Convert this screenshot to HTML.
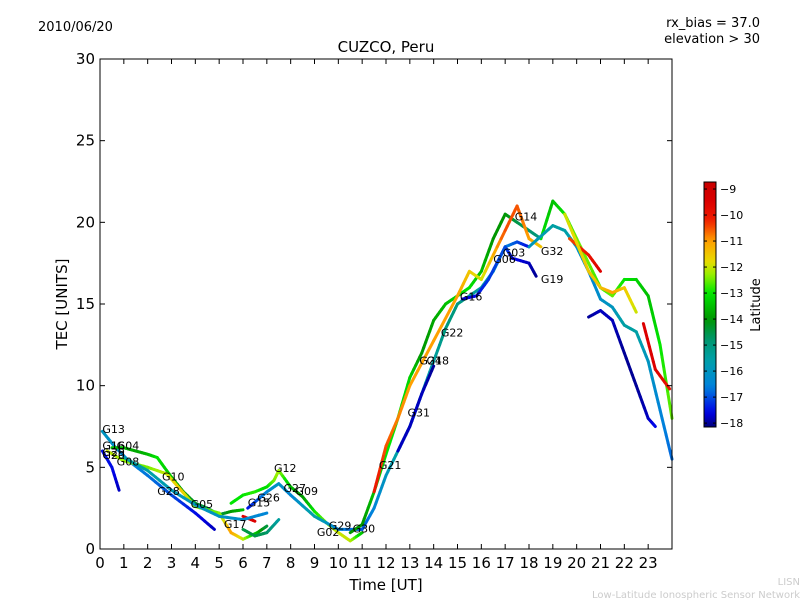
<!DOCTYPE html>
<html><head><meta charset="utf-8">
<style>
body{margin:0;background:#fff;}
svg{display:block;font-family:"DejaVu Sans","Liberation Sans",sans-serif;}
</style></head>
<body>
<svg id="chart" width="800" height="600">
<text x="38" y="31" font-size="13">2010/06/20</text>
<text x="760" y="27" font-size="13" text-anchor="end">rx_bias = 37.0</text>
<text x="760" y="43" font-size="13" text-anchor="end">elevation &gt; 30</text>
<text x="386" y="52" font-size="15" text-anchor="middle">CUZCO, Peru</text>
<text x="386" y="590" font-size="15" text-anchor="middle">Time [UT]</text>
<text x="67" y="304" font-size="15" text-anchor="middle" transform="rotate(-90 67 304)">TEC [UNITS]</text>
<text x="760" y="305" font-size="13" text-anchor="middle" transform="rotate(-90 760 305)">Latitude</text>
<text x="800" y="585" font-size="10" fill="#ccc" text-anchor="end">LISN</text>
<text x="800" y="598" font-size="10" fill="#ccc" text-anchor="end">Low-Latitude Ionospheric Sensor Network</text>
<g id="marks"></g>
<g id="axes"></g>
</svg>
<script>
const xTicks=[0,1,2,3,4,5,6,7,8,9,10,11,12,13,14,15,16,17,18,19,20,21,22,23];
const yTicks=[0,5,10,15,20,25,30];
const cbTicks=[-9,-10,-11,-12,-13,-14,-15,-16,-17,-18];
const trackTimes=[
[0.1,0.5,0.8],
[0.1,0.6,1.2,2,3,4,4.8],
[0.5,1,1.5,2,2.4,3,3.5,4,4.5,5,5.5,6],
[0.3,1,2,2.8,3.4,4,5,5.5,6,6.6,7],
[6,6.5,7,7.5],
[5.5,6,6.5,7,7.3,7.5,8,8.5,9,9.5,10,10.5,11],
[6,6.5],
[6.2,7,7.5,8,9,10,11,11.5,12,12.5,13,13.5,14,14.5,15,16,16.5,17,17.5,18],
[10.5,11,11.5,12,12.5,13,13.5,14,14.5,15,15.5,16,16.5,17,17.5,18,18.5],
[11.5,12,12.5,13,15,15.5,16,17,17.5,18,18.5],
[12.5,13,13.5,14],
[15.2,15.8,16.3,17,17.3,18,18.3],
[18.5,19,19.5,20,20.5,21,21.5,22,22.5,23,23.5,24],
[18,19,19.5,20,20.5,21,21.5,22,22.5,23,23.5,24],
[20.5,21,21.5,22,22.5,23,23.3],
[19.7,20.5,21],
[22.8,23.3,23.9],
[19.5,20.5,21,21.5,22,22.5],
[1,2,3,4,5,6,7]
];
const trackTec=[
[6.0,5.0,3.6],
[7.2,6.3,5.4,4.5,3.3,2.2,1.2],
[6.2,6.2,6.0,5.8,5.6,4.4,3.5,2.8,2.5,2.1,2.3,2.4],
[6.0,5.4,5.0,4.6,3.6,2.6,2.2,1.0,0.6,1.0,1.4],
[1.2,0.8,1.0,1.8],
[2.8,3.3,3.5,3.8,4.2,4.8,3.8,3.2,2.3,1.6,1.0,0.5,1.0],
[2.0,1.7],
[2.5,3.5,4.0,3.3,2.0,1.2,1.2,2.5,4.5,6,7.5,9.5,11.5,13.5,15,16,17,18.5,18.8,18.5],
[1.0,1.5,3.5,5.8,8.0,10.5,12,14,15,15.5,16,17,19,20.5,20,19.5,19],
[3.5,6.3,8,10,15.5,17,16.5,19.5,21,19,18.5],
[6.0,7.5,9.5,11.2],
[15.3,15.5,16.5,18.5,17.8,17.5,16.7],
[19,21.3,20.5,19,17.5,16,15.5,16.5,16.5,15.5,12.5,8.0],
[18.5,19.8,19.5,18.5,17,15.3,14.8,13.7,13.3,11.5,8.5,5.5],
[14.2,14.6,14,12,10,8,7.5],
[19,18,17],
[13.8,11,9.8],
[20.5,17,16,15.7,16,14.5],
[5.6,4.8,3.6,2.7,2.0,1.8,2.2]
];
const trackLat=[
[-17.5,-17.5,-17.8],
[-16,-16.2,-16.5,-16.7,-17,-17.5,-17.8],
[-13.5,-13.5,-13.8,-13.6,-13,-13.4,-14,-14.3,-14.5,-14.6,-14,-13.5],
[-12,-12.3,-12.5,-12,-11.5,-12.5,-12.5,-11,-12,-13.5,-14.5],
[-14.5,-14.5,-14.7,-15.5],
[-13,-13,-12.8,-13.2,-12.5,-12.2,-13.5,-14,-13,-12.5,-12,-12,-13.5],
[-9.5,-9.5],
[-17.5,-16.5,-16,-16.5,-15.5,-16.5,-17,-16.5,-16,-15.5,-16,-16,-15.5,-15,-15,-15.5,-16,-16.5,-17,-17.5],
[-14,-14,-13.5,-13,-13,-13.2,-14,-13.8,-13.5,-13.2,-13,-13.5,-14,-14,-14.5,-14.8,-15],
[-10,-10.5,-10.8,-11,-11,-11.5,-12,-10.5,-10.5,-11,-11.5],
[-17.8,-17.8,-17.8,-18],
[-17.8,-17.5,-17.2,-17,-17.5,-17.8,-18],
[-13,-13.5,-13,-12.5,-12.5,-12.8,-12.5,-13,-13.2,-13.5,-13,-12.5],
[-16,-15.5,-15.5,-16,-16.5,-16.2,-16,-15.5,-15.5,-16,-16.5,-16.8],
[-18,-17.8,-17.8,-18,-18,-17.8,-17.5],
[-10.5,-10,-9.5],
[-9.5,-9.5,-10],
[-12,-11.5,-11.5,-11,-11.5,-12],
[-15.5,-15.5,-15.8,-16,-16,-16.3,-16.5]
];
const labelText=["G13","G16","G04","G29","G20","G08","G10","G28","G05","G17","G15","G26","G12","G27","G09","G29","G02","G30","G21","G31","G24","G18","G22","G16","G06","G03","G14","G32","G19"];
const labelT=[0.1,0.1,0.7,0.1,0.1,0.7,2.6,2.4,3.8,5.2,6.2,6.6,7.3,7.7,8.2,9.6,9.1,10.6,11.7,12.9,13.4,13.7,14.3,15.1,16.5,16.9,17.4,18.5,18.5];
const labelTec=[7.1,6.1,6.1,5.7,5.5,5.1,4.2,3.3,2.5,1.3,2.6,2.9,4.7,3.5,3.3,1.2,0.8,1.0,4.9,8.1,11.3,11.3,13.0,15.2,17.5,17.9,20.1,18.0,16.3];

const X0=100,X1=672,Y0=549,Y1=59;
const xs=t=>X0+(t/24)*(X1-X0);
const ys=v=>Y0-(v/30)*(Y0-Y1);
const CBT=182,CBB=427,CBX=704,CBW=12,VMIN=-18.15,VMAX=-8.73;
const cy=v=>CBB-(v-VMIN)/(VMAX-VMIN)*(CBB-CBT);
// colormap stops (latitude value -> rgb)
const cmV=[-18.15,-17.6,-16.6,-15.6,-14.8,-14.0,-13.0,-12.3,-11.8,-11.0,-10.2,-9.5,-8.73];
const cmC=[[0,0,120],[0,0,230],[0,130,220],[0,160,170],[0,150,110],[0,150,0],[0,230,0],[150,240,0],[230,220,0],[255,160,0],[240,30,0],[220,0,0],[200,0,0]];
function latColor(l){
 if(l<=cmV[0])return `rgb(${cmC[0]})`;
 for(let i=0;i<cmV.length-1;i++){
  if(l<=cmV[i+1]){const f=(l-cmV[i])/(cmV[i+1]-cmV[i]);
   const c=cmC[i].map((a,k)=>Math.round(a+(cmC[i+1][k]-a)*f));return `rgb(${c})`;}
 }
 return `rgb(${cmC[cmC.length-1]})`;
}
const NS="http://www.w3.org/2000/svg";
const svg=document.getElementById('chart');
const marks=document.getElementById('marks');
const axes=document.getElementById('axes');
function mk(tag,attrs,parent){const e=document.createElementNS(NS,tag);for(const k in attrs)e.setAttribute(k,attrs[k]);parent.appendChild(e);return e;}

trackTimes.forEach((tt,i)=>{
 const g=mk('g',{},marks);
 
 
 for(let j=0;j<tt.length-1;j++){
  const n=6;
  for(let k=0;k<n;k++){
   const a=k/n,b=(k+1)/n;
   const t0=tt[j]+(tt[j+1]-tt[j])*a,t1=tt[j]+(tt[j+1]-tt[j])*b;
   const v0=trackTec[i][j]+(trackTec[i][j+1]-trackTec[i][j])*a,v1=trackTec[i][j]+(trackTec[i][j+1]-trackTec[i][j])*b;
   const l=trackLat[i][j]+(trackLat[i][j+1]-trackLat[i][j])*(a+b)/2;
   const s=mk('line',{x1:xs(t0),y1:ys(v0),x2:xs(t1),y2:ys(v1),stroke:latColor(l),'stroke-width':3,'stroke-linecap':'round'},g);
   
   
  }
 }
});
labelText.forEach((s,i)=>{
 const t=mk('text',{x:xs(labelT[i]),y:ys(labelTec[i]),'font-size':11},marks);
 t.textContent=s;
 
 
});
const fr=mk('rect',{x:X0,y:Y1,width:X1-X0,height:Y0-Y1,fill:'none',stroke:'#000','stroke-width':1},axes);


xTicks.forEach(v=>{
 const x=xs(v);
 mk('line',{x1:x,y1:Y0,x2:x,y2:Y0-5,stroke:'#000'},axes);
 mk('line',{x1:x,y1:Y1,x2:x,y2:Y1+5,stroke:'#000'},axes);
 const t=mk('text',{x:x,y:Y0+19,'font-size':15,'text-anchor':'middle'},axes);
 t.textContent=v;
 
 
});
yTicks.forEach(v=>{
 const y=ys(v);
 mk('line',{x1:X0,y1:y,x2:X0+5,y2:y,stroke:'#000'},axes);
 mk('line',{x1:X1,y1:y,x2:X1-5,y2:y,stroke:'#000'},axes);
 const t=mk('text',{x:X0-5,y:y+5,'font-size':15,'text-anchor':'end'},axes);
 t.textContent=v;
 
 
});
const defs=mk('defs',{},svg);
const grad=mk('linearGradient',{id:'cmg',x1:0,y1:1,x2:0,y2:0},defs);
for(let i=0;i<=40;i++){const v=VMIN+(VMAX-VMIN)*i/40;mk('stop',{offset:i/40,'stop-color':latColor(v)},grad);}
const cb=mk('rect',{x:CBX,y:CBT,width:CBW,height:CBB-CBT,fill:'url(#cmg)',stroke:'#000'},axes);


cbTicks.forEach(v=>{
 const y=cy(v);
 mk('line',{x1:CBX,y1:y,x2:CBX+3,y2:y,stroke:'#000'},axes);
 mk('line',{x1:CBX+CBW,y1:y,x2:CBX+CBW-3,y2:y,stroke:'#000'},axes);
 const t=mk('text',{x:CBX+CBW+4,y:y+4,'font-size':11},axes);
 t.textContent='\u2212'+Math.abs(v);
 
 
});
</script>
</body></html>
